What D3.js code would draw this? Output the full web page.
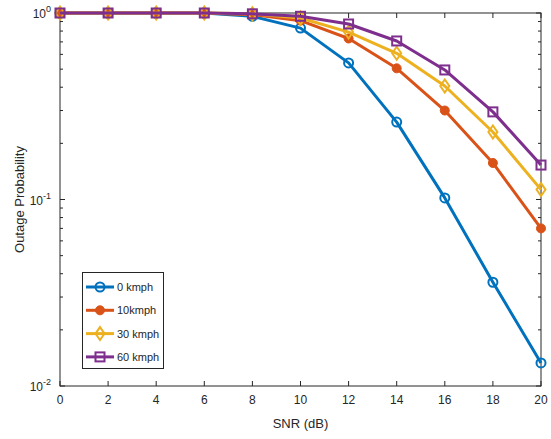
<!DOCTYPE html>
<html><head><meta charset="utf-8">
<script src="https://cdn.jsdelivr.net/npm/d3@7"></script>
<style>body{margin:0;background:#fff}svg{display:block}text{font-family:"Liberation Sans",Arial,sans-serif;fill:#262626}</style>
</head><body><svg id="c" width="551" height="439"></svg>
<script>
const snr = [0,2,4,6,8,10,12,14,16,18,20];
const kmph0  = [1,1,1,1,0.96,0.83,0.54,0.26,0.102,0.036,0.0133];
const kmph10 = [1,1,1,1,0.98,0.91,0.73,0.505,0.30,0.157,0.070];
const kmph30 = [1,1,1,1,0.99,0.94,0.79,0.608,0.406,0.230,0.113];
const kmph60 = [1,1,1,1,0.99,0.96,0.873,0.708,0.495,0.295,0.153];
const seriesNames = ["0 kmph","10kmph","30 kmph","60 kmph"];
const colors = ["#0072BD","#D95319","#EDB120","#7E2F8E"];
const markers = ["circle","dot","diamond","square"];
const xTicks = [0,2,4,6,8,10,12,14,16,18,20];
const yTicks = [1e-2,1e-1,1];
const yTickExp = ["-2","-1","0"];

const svg = d3.select("#c");
const L=60,R=541,T=13,B=386;
const x = d3.scaleLinear().domain([0,20]).range([L,R]);
const y = d3.scaleLog().domain([0.01,1]).range([B,T]);
const axisColor="#262626";

const g = svg.append("g");
// box
g.append("rect").attr("x",L).attr("y",T).attr("width",R-L).attr("height",B-T)
 .attr("fill","none").attr("stroke",axisColor).attr("stroke-width",1);
// x ticks
xTicks.forEach(t=>{
  const px=x(t);
  g.append("line").attr("x1",px).attr("x2",px).attr("y1",B).attr("y2",B-5).attr("stroke",axisColor);
  g.append("line").attr("x1",px).attr("x2",px).attr("y1",T).attr("y2",T+5).attr("stroke",axisColor);
  g.append("text").attr("x",px).attr("y",B+18).attr("text-anchor","middle").attr("font-size",12).text(t);
});
// y ticks
yTicks.forEach((t,i)=>{
  const py=y(t);
  g.append("line").attr("x1",L).attr("x2",L+5).attr("y1",py).attr("y2",py).attr("stroke",axisColor);
  g.append("line").attr("x1",R).attr("x2",R-5).attr("y1",py).attr("y2",py).attr("stroke",axisColor);
  const tx=g.append("text").attr("x",51).attr("y",py+5).attr("text-anchor","end").attr("font-size",12);
  tx.append("tspan").text("10");
  tx.append("tspan").attr("dy",-6).attr("font-size",9).text(yTickExp[i]);
});
// minor ticks
[0.01,0.1].forEach(d=>{
  for(let k=2;k<=9;k++){
    const py=y(d*k);
    g.append("line").attr("x1",L).attr("x2",L+3).attr("y1",py).attr("y2",py).attr("stroke",axisColor);
    g.append("line").attr("x1",R).attr("x2",R-3).attr("y1",py).attr("y2",py).attr("stroke",axisColor);
  }
});
// labels
g.append("text").attr("x",(L+R)/2).attr("y",428).attr("text-anchor","middle").attr("font-size",13).text("SNR (dB)");
g.append("text").attr("transform",`translate(24,${(T+B)/2}) rotate(-90)`).attr("text-anchor","middle").attr("font-size",13).text("Outage Probability");

function drawMarker(sel,type,cx,cy,color){
  if(type==="circle") sel.append("circle").attr("cx",cx).attr("cy",cy).attr("r",4.5).attr("fill","none").attr("stroke",color).attr("stroke-width",2);
  else if(type==="dot") sel.append("circle").attr("cx",cx).attr("cy",cy).attr("r",4.5).attr("fill",color).attr("stroke",color).attr("stroke-width",1);
  else if(type==="diamond") sel.append("path").attr("d",`M${cx},${cy-6.5}L${cx+4.5},${cy}L${cx},${cy+6.5}L${cx-4.5},${cy}Z`).attr("fill","none").attr("stroke",color).attr("stroke-width",2);
  else sel.append("rect").attr("x",cx-4.5).attr("y",cy-4.5).attr("width",9).attr("height",9).attr("fill","none").attr("stroke",color).attr("stroke-width",2);
}
const allSeries=[kmph0,kmph10,kmph30,kmph60];
const line=d3.line().x((d,i)=>x(snr[i])).y(d=>y(d));
allSeries.forEach((s,si)=>{
  const sg=svg.append("g");
  sg.append("path").datum(s).attr("d",line).attr("fill","none").attr("stroke",colors[si]).attr("stroke-width",3).attr("stroke-linejoin","round");
  s.forEach((v,i)=>drawMarker(sg,markers[si],x(snr[i]),y(v),colors[si]));
});
// legend
const lg=svg.append("g");
lg.append("rect").attr("x",82.5).attr("y",272.5).attr("width",81).attr("height",96).attr("fill","#fff").attr("stroke",axisColor).attr("stroke-width",1);
seriesNames.forEach((n,i)=>{
  const ly=287+i*23.3;
  lg.append("line").attr("x1",86).attr("x2",114).attr("y1",ly).attr("y2",ly).attr("stroke",colors[i]).attr("stroke-width",3);
  drawMarker(lg,markers[i],100,ly,colors[i]);
  lg.append("text").attr("x",117).attr("y",ly+4).attr("font-size",11).text(n);
});
</script></body></html>
